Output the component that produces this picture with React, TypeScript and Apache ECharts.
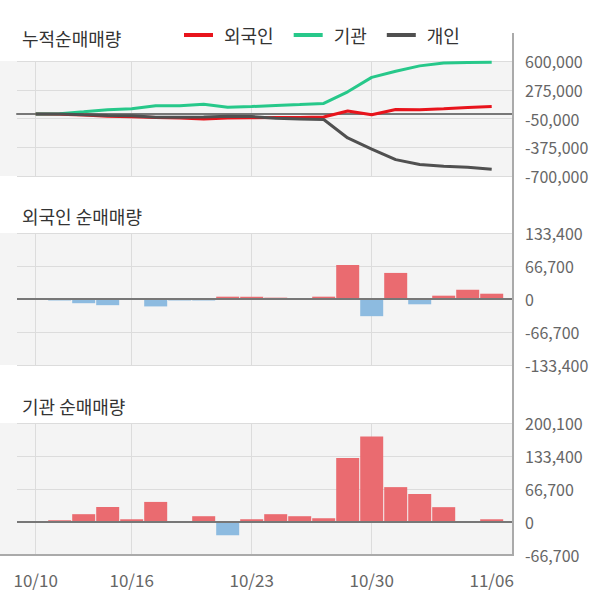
import { useEffect, useRef } from 'react';
import * as echarts from 'echarts';

// ---- data ----
const dates = [
  '10/10', '10/11', '10/14', '10/15', '10/16', '10/17', '10/18', '10/21', '10/22', '10/23',
  '10/24', '10/25', '10/28', '10/29', '10/30', '10/31', '11/01', '11/04', '11/05', '11/06',
];
const labelDates = ['10/10', '10/16', '10/23', '10/30', '11/06'];
const gridDates = ['10/10', '10/16', '10/23', '10/30'];

const seriesNames = ['외국인', '기관', '개인'];
const foreignCum = [0, -3000, -10000, -25000, -30000, -40000, -45000, -55000, -45000, -42000, -40000, -38000, -33000, 34000, -8000, 52000, 48000, 60000, 75000, 87000];
const instCum = [0, 5000, 25000, 50000, 60000, 95000, 95000, 110000, 78000, 85000, 97000, 108000, 120000, 252000, 415000, 485000, 545000, 578000, 582000, 585000];
const indivCum = [0, 2000, -8000, -15000, -20000, -35000, -37000, -32000, -25000, -28000, -48000, -55000, -62000, -270000, -395000, -515000, -570000, -590000, -602000, -624000];

const foreignDaily = [0, -3000, -8500, -12500, 0, -15000, -3000, -3000, 4700, 4700, 2700, 0, 4700, 68700, -34700, 52700, -10700, 6700, 18700, 10700];
const instDaily = [0, 3400, 15800, 30300, 5500, 40600, 0, 11700, -26800, 5500, 15800, 11700, 7600, 129300, 172600, 70500, 56600, 30000, 0, 5500];

const panelTitles = ['누적순매매량', '외국인 순매매량', '기관 순매매량'];
const cumAxis = { min: -700000, max: 600000, interval: 325000 };
const foreignAxis = { min: -133400, max: 133400, interval: 66700 };
const instAxis = { min: -66700, max: 200100, interval: 66700 };

// ---- style / layout ----
const FONT = '"Noto Sans CJK KR", "Noto Sans", sans-serif';
const LINE_COLORS = ['#e8141c', '#27c88a', '#505050'];
const POS = '#ea6b70';
const NEG = '#8dbbe0';
const BG = '#f4f4f4';
const GRID_LEFT = 17;
const GRID_W = 496;
const STEP = 24;
const X_MIN = -(35.7 - GRID_LEFT) / STEP;
const X_MAX = X_MIN + GRID_W / STEP;
const panels = [
  { top: 61, height: 115, titleTop: 29 },
  { top: 233, height: 132, titleTop: 207 },
  { top: 423, height: 132, titleTop: 397 },
];

const pairs = (arr: number[]) => arr.map((v, i) => [i, v]);
const barData = (arr: number[]) =>
  arr.map((v, i) => ({ value: [i, v], itemStyle: { color: v >= 0 ? POS : NEG } }));

export default function App() {
  const ref = useRef<HTMLDivElement>(null);
  useEffect(() => {
    const chart = echarts.init(ref.current!, null, { renderer: 'svg' });
    const gridIdx = gridDates.map((d) => dates.indexOf(d));
    const labelIdx = labelDates.map((d) => dates.indexOf(d));
    const axesY = [cumAxis, foreignAxis, instAxis];

    const option: any = {
      animation: false,
      textStyle: { fontFamily: FONT },
      title: panelTitles.map((t, k) => ({
        text: t,
        left: 22,
        top: panels[k].titleTop,
        padding: 0,
        textStyle: { fontSize: 18, fontWeight: 'normal', color: '#333', fontFamily: FONT },
      })),
      legend: {
        data: seriesNames,
        left: 184,
        top: 26,
        padding: 0,
        icon: 'rect',
        itemWidth: 29,
        itemHeight: 4,
        itemGap: 20,
        textStyle: { fontSize: 18, color: '#333', fontFamily: FONT, padding: [0, 0, 0, 6] },
      },
      grid: panels.map((p) => ({
        left: GRID_LEFT,
        top: p.top,
        width: GRID_W,
        height: p.height,
        show: true,
        backgroundColor: BG,
        borderWidth: 0,
      })),
      xAxis: panels.map((_, k) => ({
        type: 'value',
        gridIndex: k,
        min: X_MIN,
        max: X_MAX,
        axisLine: { show: k === 0, onZero: true, lineStyle: { color: '#777', width: 2 } },
        axisTick: { show: false, customValues: gridIdx },
        axisLabel: {
          show: k === 2,
          customValues: labelIdx,
          formatter: (v: number) => dates[Math.round(v)],
          color: '#666',
          fontSize: 17,
          margin: 16,
          fontFamily: FONT,
        },
        splitLine: { show: true, lineStyle: { color: '#dcdcdc', width: 1 } },
      })),
      yAxis: axesY.map((a, k) => ({
        type: 'value',
        gridIndex: k,
        position: 'right',
        min: a.min,
        max: a.max,
        interval: a.interval,
        axisLine: { show: false },
        axisTick: { show: false },
        axisLabel: {
          color: '#666',
          fontSize: 16,
          margin: 12,
          fontFamily: FONT,
          formatter: (v: number) => v.toLocaleString('en-US'),
        },
        splitLine: { show: true, lineStyle: { color: '#dcdcdc', width: 1 } },
      })),
      series: [
        ...[foreignCum, instCum, indivCum].map((arr, k) => ({
          name: seriesNames[k],
          type: 'line',
          xAxisIndex: 0,
          yAxisIndex: 0,
          data: pairs(arr),
          symbol: 'none',
          lineStyle: { color: LINE_COLORS[k], width: 3 },
          itemStyle: { color: LINE_COLORS[k] },
          z: 3 + k,
        })),
        ...[foreignDaily, instDaily].map((arr, k) => ({
          type: 'bar',
          xAxisIndex: k + 1,
          yAxisIndex: k + 1,
          data: barData(arr),
          barWidth: 23,
          markLine: {
            silent: true,
            symbol: 'none',
            label: { show: false },
            lineStyle: { color: '#777', width: 2, type: 'solid' },
            data: [{ yAxis: 0 }],
          },
        })),
      ],
      graphic: [
        ...panels.map((p) => ({
          type: 'rect',
          silent: true,
          shape: { x: 0, y: p.top, width: GRID_LEFT, height: p.height },
          style: { fill: BG },
        })),
        {
          type: 'line',
          silent: true,
          z: 100,
          shape: { x1: 0, y1: 555, x2: 514, y2: 555 },
          style: { stroke: '#aaa', lineWidth: 2 },
        },
        {
          type: 'line',
          silent: true,
          z: 100,
          shape: { x1: 513, y1: 33, x2: 513, y2: 556 },
          style: { stroke: '#aaa', lineWidth: 2 },
        },
      ],
    };
    chart.setOption(option);
    return () => chart.dispose();
  }, []);
  return (
    <div
      ref={ref}
      style={{ position: 'fixed', left: 0, top: 0, width: 600, height: 604, background: '#fff' }}
    />
  );
}
